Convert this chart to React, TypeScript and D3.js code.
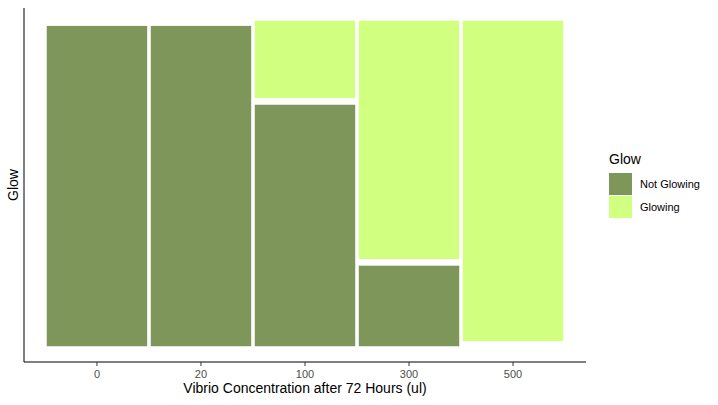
import React from "react";
import * as d3 from "d3";

const categories = ["0", "20", "100", "300", "500"];
const notGlowing = [1, 1, 0.755, 0.255, 0];
const groups = ["Not Glowing", "Glowing"];
const colors = ["#7f965b", "#d1ff80"];

const W = 718, H = 405;
const left = 24, right = 586, top = 8, bottom = 362;
const gap = 0.016;

export default function App() {
  const x = d3.scaleBand().domain(categories).range([46, 564]).paddingInner(0.02).paddingOuter(0);
  const y = d3.scaleLinear().domain([0, 1 + gap]).range([347, 20]);

  const rects: { c: string; y0: number; y1: number; g: number }[] = [];
  categories.forEach((c, i) => {
    const a = notGlowing[i];
    rects.push({ c, y0: 0, y1: a, g: 0 });
    rects.push({ c, y0: a + gap, y1: 1 + gap, g: 1 });
  });

  return (
    <svg width={W} height={H} style={{ position: "absolute", left: 0, top: 0 }} fontFamily="Liberation Sans, Arial, sans-serif">
      <rect width={W} height={H} fill="#fff" />
      {rects.map((r, i) =>
        r.y1 - r.y0 > 0 ? (
          <rect key={i} x={x(r.c)!} width={x.bandwidth()} y={y(r.y1)} height={y(r.y0) - y(r.y1)}
            fill={colors[r.g]} stroke="#fff" strokeWidth={1.5} />
        ) : null
      )}
      <line x1={left} x2={left} y1={top} y2={bottom} stroke="#000" strokeWidth={1} />
      <line x1={left} x2={right} y1={bottom} y2={bottom} stroke="#000" strokeWidth={1} />
      {categories.map((c) => (
        <g key={c} transform={`translate(${x(c)! + x.bandwidth() / 2},0)`}>
          <line y1={bottom} y2={bottom + 4} stroke="#333" />
          <text y={378} textAnchor="middle" fontSize={11} fill="#4d4d4d">{c}</text>
        </g>
      ))}
      <text x={(left + right) / 2} y={393} textAnchor="middle" fontSize={14}>Vibrio Concentration after 72 Hours (ul)</text>
      <text transform="translate(18,185) rotate(-90)" textAnchor="middle" fontSize={14}>Glow</text>
      <text x={609} y={164} fontSize={14}>Glow</text>
      {groups.map((g, i) => (
        <g key={g} transform={`translate(609,${173 + i * 23})`}>
          <rect width={23} height={22} fill={colors[i]} />
          <text x={31} y={15} fontSize={11}>{g}</text>
        </g>
      ))}
    </svg>
  );
}
